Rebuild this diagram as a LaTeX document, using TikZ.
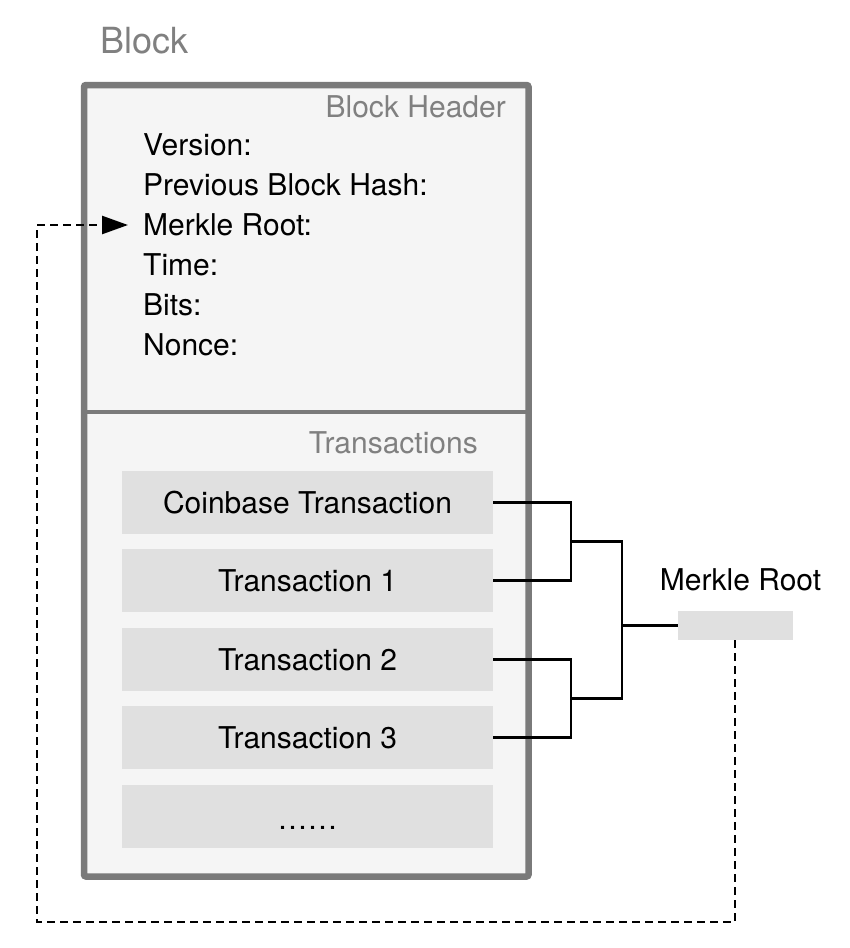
\documentclass[tikz,border=0pt]{standalone}
\usepackage{fontspec}
\setmainfont{TeX Gyre Heros}
\usetikzlibrary{arrows.meta,calc}
\definecolor{framegray}{HTML}{7A7A7A}
\definecolor{labelgray}{HTML}{808080}
\definecolor{panelfill}{HTML}{F5F5F5}
\definecolor{txfill}{HTML}{E0E0E0}
\begin{document}
\begin{tikzpicture}[x=1pt,y=-1pt,
  body/.style={font=\fontsize{30}{36}\selectfont, inner sep=0pt, text=black},
  graylabel/.style={font=\fontsize{30}{36}\selectfont, inner sep=0pt, text=labelgray},
  txbox/.style={fill=txfill, draw=none, minimum width=371pt, minimum height=63pt, inner sep=0pt, font=\fontsize{30}{36}\selectfont},
  treeline/.style={draw=black, line width=2.5pt},
  dashline/.style={draw=black, line width=2.5pt, dash pattern=on 8pt off 5pt}]
\useasboundingbox (0,0) rectangle (849,948);
% outer block
\node[anchor=base west, inner sep=0pt, text=labelgray, font=\fontsize{36}{42}\selectfont] (blocklbl) at (100,53) {Block};
\draw[draw=framegray, fill=panelfill, line width=6.5pt, rounded corners=2pt] (84,85) rectangle (528.5,876.5);
\coordinate (divl) at (87,412);
\coordinate (divr) at (525.5,412);
\draw[draw=framegray, line width=4pt] (divl) -- (divr);
% header
\node[graylabel, anchor=base east] (hdr) at (506,117) {Block Header};
\node[body, anchor=base west] (ver) at (143,155) {Version:};
\node[body, anchor=base west] (prev) at (143,195) {Previous Block Hash:};
\node[body, anchor=base west] (mr) at (143,235) {Merkle Root:};
\node[body, anchor=base west] (time) at (143,275) {Time:};
\node[body, anchor=base west] (bits) at (143,315) {Bits:};
\node[body, anchor=base west] (nonce) at (143,355) {Nonce:};
% transactions
\node[graylabel, anchor=base east] (txl) at (478,453) {Transactions};
\node[txbox] (t0) at (307.5,502.5) {Coinbase Transaction};
\node[txbox] (t1) at (307.5,580.5) {Transaction 1};
\node[txbox] (t2) at (307.5,659.5) {Transaction 2};
\node[txbox] (t3) at (307.5,737.5) {Transaction 3};
\node[txbox] (t4) at (307.5,816.5) {};
\node[body, anchor=base] (dots) at (307.5,829) {……};
% merkle root
\node[fill=txfill, draw=none, minimum width=115pt, minimum height=29pt, inner sep=0pt] (root) at (735.5,625.5) {};
\node[body, anchor=base] (rootlbl) at (740.5,590) {Merkle Root};
% tree
\coordinate (j1) at ($(t0.east)!0.5!(t1.east)+(78,0)$);
\coordinate (j2) at ($(t2.east)!0.5!(t3.east)+(78,0)$);
\coordinate (j3) at ($(j1)+(51,0)$);
\coordinate (j4) at ($(j2)+(51,0)$);
\coordinate (j5) at (j3 |- root.west);
\draw[treeline] (t0.east) -| (j1) |- (t1.east);
\draw[treeline] (t2.east) -| (j2) |- (t3.east);
\draw[treeline] (j1) -| (j3) -- (j4) -| (j2);
\draw[treeline] (j5) -- (root.west);
% dashed link
\coordinate (c1) at (735,922);
\coordinate (c2) at (37,922);
\coordinate (c3) at (37,225);
\coordinate (tip) at (128,225);
\draw[dashline, -{Triangle[length=26pt,width=18pt]}] (root.south -| c1) -- (c1) -- (c2) -- (c3) -- (tip);
\end{tikzpicture}
\end{document}
